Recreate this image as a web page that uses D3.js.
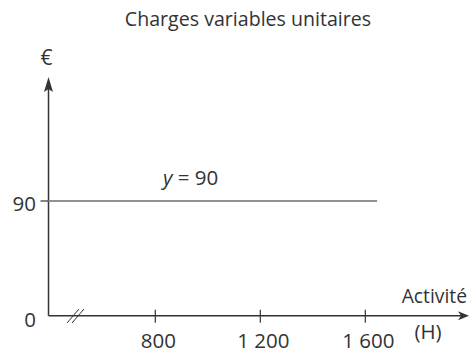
<!DOCTYPE html>
<html><head><meta charset="utf-8">
<script src="https://cdn.jsdelivr.net/npm/d3@7"></script>
<style>body{margin:0;background:#fff}text{font-family:"Open Sans","Noto Sans",sans-serif;fill:#333}</style>
</head><body>
<svg id="c" width="476" height="353"></svg>
<script>
const title = "Charges variables unitaires";
const xTicks = [800, 1200, 1600];
const xTickLabels = ["800", "1 200", "1 600"];
const yTicks = [0, 90];
const yTickLabels = ["0", "90"];
const lineValue = [90];
const lineEnd = [1645];
const lineLabel = "= 90";

const svg = d3.select("#c");
const x = d3.scaleLinear().domain([800, 1600]).range([155.3, 365.3]);
const y = d3.scaleLinear().domain([0, 90]).range([315.7, 201]);
const ox = 48.5, oy = y(0);
const axisCol = "#333", fs = 20.5;

svg.append("text").attr("x", 248).attr("y", 26).attr("text-anchor", "middle")
  .style("font-size", "19.6px").text(title);

// axes
svg.append("line").attr("x1", ox).attr("y1", oy).attr("x2", 462).attr("y2", oy)
  .attr("stroke", axisCol).attr("stroke-width", 1.5);
svg.append("line").attr("x1", ox).attr("y1", oy).attr("x2", ox).attr("y2", 88)
  .attr("stroke", axisCol).attr("stroke-width", 1.5);
svg.append("path").attr("d", `M469,${oy} L458,${oy-4.5} L461,${oy} L458,${oy+4.5} Z`).attr("fill", axisCol);
svg.append("path").attr("d", `M${ox},77 L${ox-4.5},92 L${ox},89 L${ox+4.5},92 Z`).attr("fill", axisCol);

// break mark
[0, 5].forEach(d => svg.append("line")
  .attr("x1", 67 + d).attr("y1", 323).attr("x2", 79 + d).attr("y2", 309)
  .attr("stroke", axisCol).attr("stroke-width", 1));

// x ticks
xTicks.forEach((t, i) => {
  svg.append("line").attr("x1", x(t)).attr("x2", x(t)).attr("y1", oy - 6).attr("y2", oy + 7)
    .attr("stroke", axisCol).attr("stroke-width", 1.2);
  svg.append("text").attr("x", x(t) + 3).attr("y", 347.5).attr("text-anchor", "middle")
    .style("font-size", fs + "px").text(xTickLabels[i]);
});
// y ticks
yTicks.forEach((t, i) => {
  if (t !== 0) svg.append("line").attr("x1", ox - 8).attr("x2", ox).attr("y1", y(t)).attr("y2", y(t))
    .attr("stroke", axisCol).attr("stroke-width", 1.2);
  svg.append("text").attr("x", 36).attr("y", y(t) + (t === 0 ? 5 : 4)).attr("dy", "0.3em")
    .attr("text-anchor", "end").style("font-size", fs + "px").text(yTickLabels[i]);
});

// series line
svg.append("line").attr("x1", ox).attr("x2", x(lineEnd[0])).attr("y1", y(lineValue[0])).attr("y2", y(lineValue[0]))
  .attr("stroke", "#919191").attr("stroke-width", 2.2);
const lt = svg.append("text").attr("x", 163).attr("y", 185).style("font-size", fs + "px");
lt.append("tspan").style("font-style", "italic").text("y");
lt.append("tspan").text(" " + lineLabel);

// axis labels
svg.append("text").attr("x", 46.5).attr("y", 65).attr("text-anchor", "middle").style("font-size", "21px").text("€");
svg.append("text").attr("x", 467).attr("y", 303).attr("text-anchor", "end").style("font-size", "19.3px").text("Activité");
svg.append("text").attr("x", 428).attr("y", 339).attr("text-anchor", "middle").style("font-size", fs + "px").text("(H)");
</script>
</body></html>
